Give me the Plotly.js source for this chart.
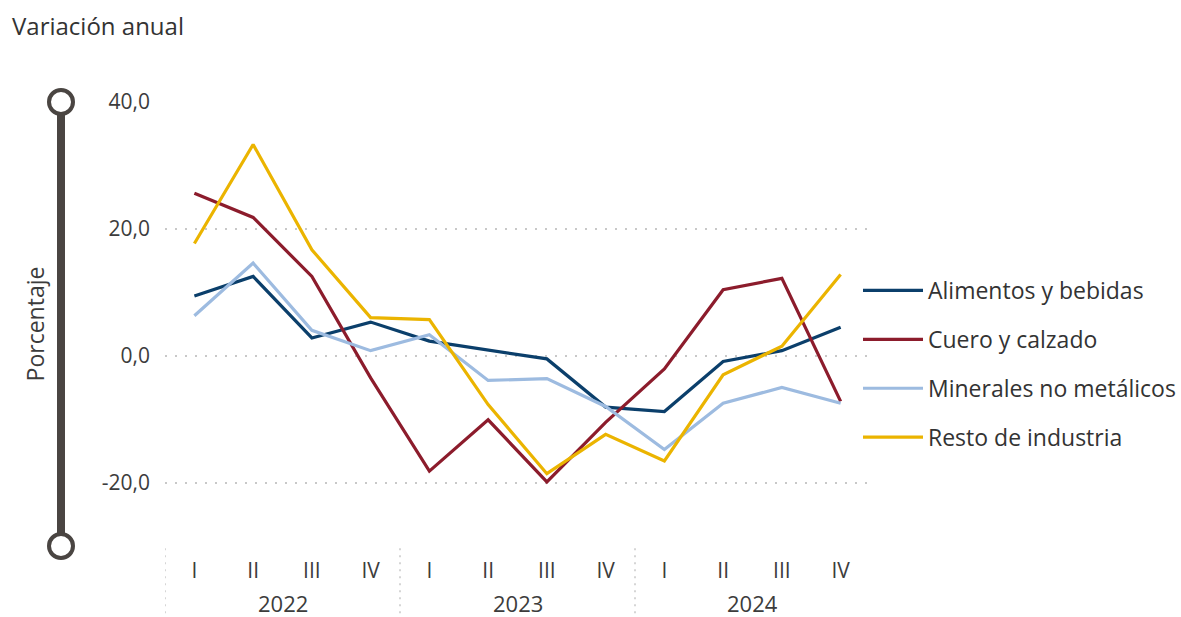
<!DOCTYPE html>
<html>
<head>
<meta charset="utf-8">
<script src="https://cdn.plot.ly/plotly-3.0.1.min.js"></script>
<style>
html,body{margin:0;padding:0;background:#fff;}
#chart{width:1181px;height:617px;}
</style>
</head>
<body>
<div id="chart"></div>
<script>
var quarters = ['I','II','III','IV','I','II','III','IV','I','II','III','IV'];
var years = ['2022','2023','2024'];
var yTicks = [-20, 0, 20, 40];
var alimentos = [9.4, 12.5, 2.8, 5.3, 2.3, 0.9, -0.5, -8.1, -8.8, -0.9, 0.8, 4.5];
var cuero = [25.6, 21.8, 12.5, -3.5, -18.2, -10.1, -19.9, -10.5, -2.1, 10.4, 12.2, -7.2];
var minerales = [6.3, 14.6, 4.0, 0.8, 3.3, -3.9, -3.6, -8.0, -14.8, -7.5, -5.0, -7.5];
var resto = [17.7, 33.3, 16.7, 6.0, 5.7, -7.7, -18.6, -12.4, -16.6, -3.0, 1.5, 12.8];
var seriesNames = ['Alimentos y bebidas','Cuero y calzado','Minerales no metálicos','Resto de industria'];
var seriesColors = ['#0b3f6b','#8c1c2c','#9dbbe0','#ebb400'];

var FONT = '"Segoe UI", "Open Sans", sans-serif';
var xIdx = quarters.map(function(q,i){return i;});
var allSeries = [alimentos, cuero, minerales, resto];
var yTickText = yTicks.map(function(v){return v.toFixed(1).replace('.', ',');});

var traces = allSeries.map(function(vals,k){
  return {
    x: xIdx, y: vals, type:'scatter', mode:'lines',
    name: seriesNames[k], legendgroup: 'g'+k,
    line:{color:seriesColors[k], width:3.2},
    hoverinfo:'skip'
  };
});

var annotations = years.map(function(yr,j){
  return {x: j*4+1.5, xref:'x', y:-0.128, yref:'paper', text:yr, showarrow:false,
    yanchor:'middle', height:22, valign:'middle', borderpad:0,
    font:{family:FONT,size:22,color:'#3c3c3c'}};
});

var shapes = [];
// year dividers (dotted)
for (var j=0;j<years.length;j++){
  shapes.push({type:'line', xref:'x', yref:'paper', x0:j*4-0.5, x1:j*4-0.5, y0:-0.005, y1:-0.17,
    line:{color:'#c8c8c8', width:1.5, dash:'2px,5px'}});
}
// slider decoration
var sx = (61-165)/705;
shapes.push({type:'line', xref:'paper', yref:'paper', x0:sx, x1:sx, y0:0, y1:1,
  line:{color:'#4a4542', width:8}});
[1,0].forEach(function(yy){
  shapes.push({type:'circle', xref:'paper', yref:'paper', xsizemode:'pixel', ysizemode:'pixel',
    xanchor:sx, yanchor:yy, x0:-12, x1:12, y0:-12, y1:12,
    fillcolor:'#ffffff', line:{color:'#4a4542', width:4}});
});

var layout = {
  width:1181, height:617,
  margin:{l:165, r:311, t:102, b:71, autoexpand:false},
  paper_bgcolor:'#fff', plot_bgcolor:'#fff',
  separators:',.',
  font:{family:FONT, color:'#3c3c3c'},
  title:{text:'Variación anual', x:12/1181, xref:'container', xanchor:'left',
    y:1-27/617, yref:'container', yanchor:'middle',
    font:{family:FONT, size:24, color:'#333'}},
  xaxis:{
    range:[-0.5,11.5], tickvals:xIdx, ticktext:quarters, showgrid:false, zeroline:false,
    showline:false, ticks:'', tickfont:{family:FONT,size:21,color:'#3c3c3c'},
    ticklabelstandoff:10, fixedrange:true, automargin:false
  },
  yaxis:{
    range:[-30,40], tickvals:yTicks, ticktext:yTickText, zeroline:false, showline:false,
    showgrid:true, gridcolor:'#c8c8c8', gridwidth:2, griddash:'2px,8px', ticks:'',
    tickfont:{family:FONT,size:21,color:'#3c3c3c'}, ticklabelstandoff:14,
    title:{text:'Porcentaje', font:{family:FONT,size:23,color:'#3c3c3c'}, standoff:50},
    automargin:false, fixedrange:true
  },
  showlegend:true,
  legend:{x:(858-165)/705, xanchor:'left', y:(546-364)/444, yanchor:'middle',
    font:{family:FONT,size:23,color:'#333'}, tracegroupgap:16, itemwidth:60,
    bgcolor:'rgba(0,0,0,0)'},
  annotations:annotations,
  shapes:shapes,
  hovermode:false
};

Plotly.newPlot('chart', traces, layout, {displayModeBar:false, staticPlot:true});
</script>
</body>
</html>
